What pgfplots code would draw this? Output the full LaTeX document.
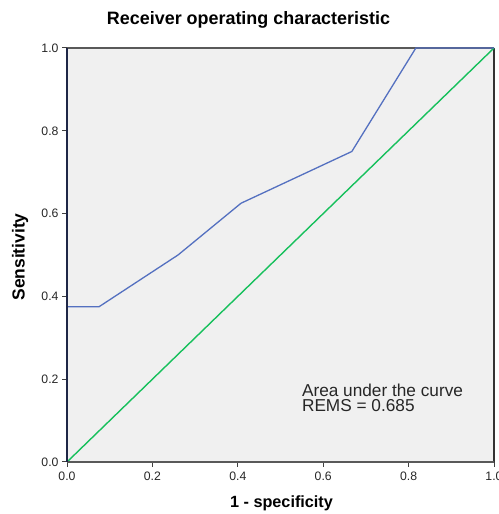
\documentclass[border=0pt]{standalone}
\usepackage{pgfplots}
\pgfplotsset{compat=1.18}
\usepackage{fontspec}
\setmainfont{Liberation Sans}
\definecolor{rocblue}{RGB}{84,112,192}
\definecolor{rocgreen}{RGB}{22,192,92}
\definecolor{bgc}{RGB}{240,240,240}
\begin{document}
\begin{tikzpicture}[x=1bp,y=1bp]
\useasboundingbox (0,0) rectangle (499,514);
\node[font=\fontsize{18}{20}\selectfont\bfseries] at (248.5,494) {Receiver operating characteristic};
\node[font=\fontsize{16.3}{18}\selectfont\bfseries] at (281.5,11) {1 - specificity};
\node[font=\fontsize{17.5}{18}\selectfont\bfseries,rotate=90] at (20,257) {Sensitivity};
\begin{axis}[
  at={(67bp,52bp)}, anchor=south west,
  scale only axis, width=427bp, height=414bp,
  xmin=0, xmax=1, ymin=0, ymax=1,
  axis background/.style={fill=bgc},
  axis line style={draw=none},
  xtick={0,0.2,0.4,0.6,0.8,1}, ytick={0,0.2,0.4,0.6,0.8,1},
  xtick pos=bottom, ytick pos=left,
  tick align=outside, major tick length=5bp,
  tick style={line width=1bp, color=black!75},
  /pgf/number format/assume math mode=true,
  /pgf/number format/.cd, fixed, fixed zerofill, precision=1,
  /pgfplots/.cd,
  ticklabel style={font=\fontsize{12.3}{14}\selectfont, color=black!85},
  xticklabel style={yshift=-1bp},
  clip=false,
]
\draw[black!65, line width=1.3bp] (rel axis cs:0,1) -- (rel axis cs:1,1);
\draw[black!80, line width=1.3bp] (rel axis cs:1,0) -- (rel axis cs:1,1);
\addplot[rocgreen, line width=1.4bp] coordinates {(0,0) (1,1)};
\addplot[rocblue, line width=1.3bp] coordinates {
(0,0) (0,0.375) (0.075,0.375) (0.26,0.5) (0.4075,0.625) (0.667,0.75) (0.817,1) (1,1)};
\draw[black!65, line width=1.5bp] (rel axis cs:0,0) -- (rel axis cs:1,0);
\draw[color={rgb,255:red,30;green,38;blue,70}, line width=1.5bp] (rel axis cs:0,0) -- (rel axis cs:0,1);
\node[anchor=north west, inner sep=0pt, align=left, font=\fontsize{17.3}{16}\selectfont, color=black!85]
  at (axis cs:0.55,0.19) {Area under the curve\\REMS = 0.685};
\end{axis}
\end{tikzpicture}
\end{document}
